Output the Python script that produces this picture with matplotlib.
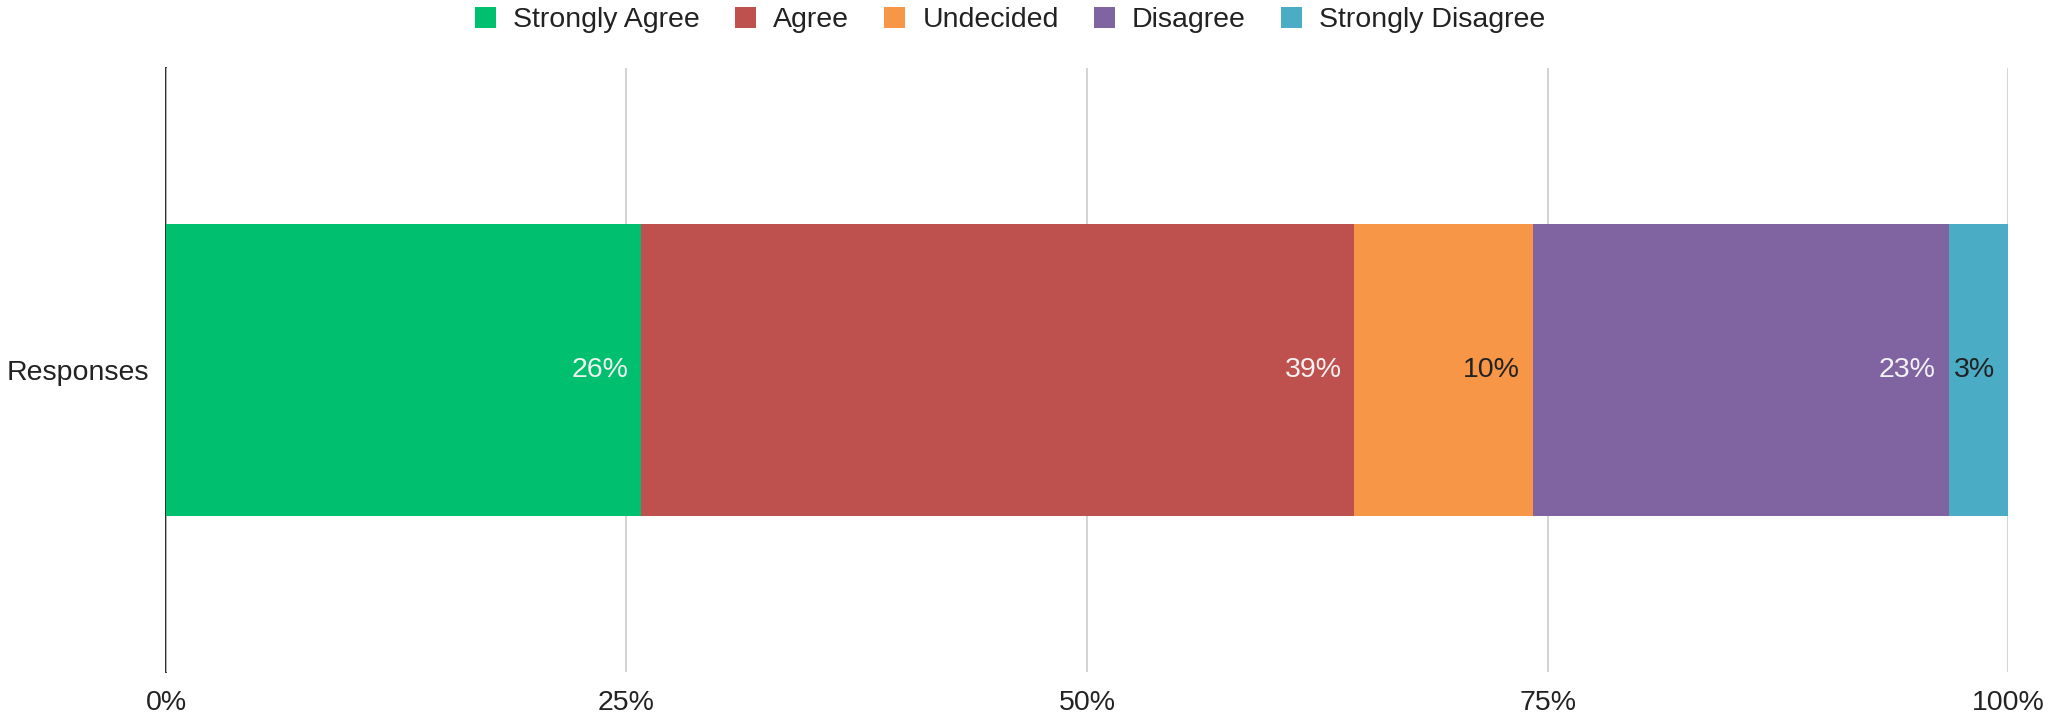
import matplotlib
matplotlib.use("Agg")
import matplotlib.pyplot as plt
from matplotlib.patches import Patch
from matplotlib.ticker import FuncFormatter

plt.rcParams["font.family"] = ["Liberation Sans", "DejaVu Sans"]

# Survey responses (counts per answer)
category = "Responses"
answers = ["Strongly Agree", "Agree", "Undecided", "Disagree", "Strongly Disagree"]
counts = [8, 12, 3, 7, 1]
colors = ["#00BF6F", "#BE504D", "#F69646", "#8064A2", "#4BACC6"]
label_colors = ["#F2F2F2", "#F2F2F2", "#222222", "#F2F2F2", "#222222"]

total = sum(counts)
shares = [c / total for c in counts]

fig = plt.figure(figsize=(20.49, 7.23), dpi=100)
ax = fig.add_axes([0.081, 0.0705, 0.899, 0.8355])

left = 0.0
for share, col, lcol in zip(shares, colors, label_colors):
    ax.barh([0], [share], left=left, height=0.483, color=col, zorder=2)
    ax.text(left + share - 0.007, 0, f"{share * 100:.0f}%", ha="right", va="center",
            color=lcol, fontsize=20.5, zorder=3)
    left += share

ax.set_xlim(0, 1)
ax.set_ylim(-0.5, 0.5)
ax.set_xticks([0, 0.25, 0.5, 0.75, 1.0])
ax.xaxis.set_major_formatter(FuncFormatter(lambda v, _: f"{v * 100:.0f}%"))
ax.set_yticks([0])
ax.set_yticklabels([category])
ax.grid(axis="x", color="#CCCCCC", linewidth=1.2, zorder=0)
ax.axvline(0, color="#1A1A1A", linewidth=1.3, zorder=1.5, clip_on=False)
for s in ax.spines.values():
    s.set_visible(False)
ax.tick_params(axis="x", length=0, pad=13, labelsize=20.5, labelcolor="#222222")
ax.tick_params(axis="y", length=0, pad=12, labelsize=20.5, labelcolor="#222222")

handles = [Patch(facecolor=c, edgecolor="none") for c in colors]
fig.legend(handles, answers, loc="center", bbox_to_anchor=(0.493, 0.972), ncol=5,
           frameon=False, fontsize=20.5, handlelength=0.75, handleheight=0.75,
           handletextpad=0.6, columnspacing=1.22, labelcolor="#222222")

fig.savefig("out.png", dpi=100)
